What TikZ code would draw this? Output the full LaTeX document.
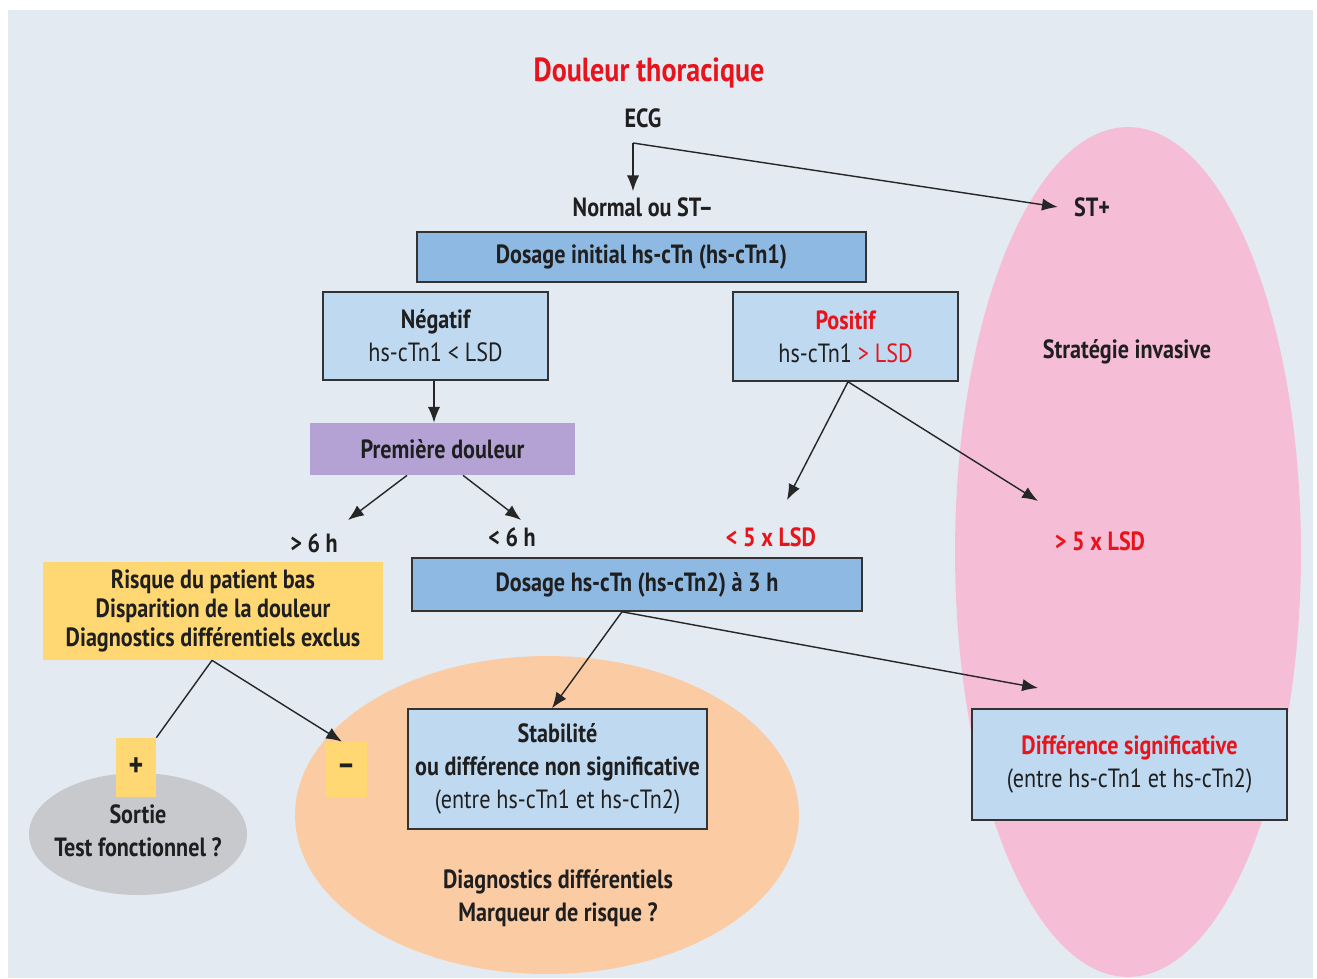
\documentclass[tikz,border=0pt]{standalone}
\usepackage{fontspec}
\setmainfont{PT Sans}[FakeStretch=0.84]
\usetikzlibrary{arrows.meta}
\definecolor{fond}{HTML}{E3EAF1}
\definecolor{rose}{HTML}{F6BDD7}
\definecolor{peche}{HTML}{FBCBA3}
\definecolor{gris}{HTML}{C8C9CD}
\definecolor{bleu}{HTML}{8DB9E2}
\definecolor{bleuclair}{HTML}{BFD9F1}
\definecolor{mauve}{HTML}{B4A2D4}
\definecolor{jaune}{HTML}{FFD874}
\definecolor{rouge}{HTML}{E8141C}
\definecolor{trait}{HTML}{333333}
\begin{document}
\begin{tikzpicture}[x=0.02cm, y=-0.02cm, >={Latex[length=9pt,width=7pt]},
  every node/.style={font=\fontsize{15}{18.7}\selectfont\bfseries, align=center, text=black!88},
  boite/.style={draw=trait, line width=0.9pt, inner sep=0pt},
  fleche/.style={line width=0.8pt, draw=black!85}]
\useasboundingbox (0,0) rectangle (1317,978);
\fill[fond] (8,10) rectangle (1313,978);
\fill[rose] (1128,552) ellipse [x radius=3.46cm, y radius=8.5cm];
\fill[peche] (547,815) ellipse [x radius=5.04cm, y radius=3.18cm];
\fill[gris] (138,834) ellipse [x radius=2.18cm, y radius=1.22cm];

\node[text=rouge, font=\fontsize{19}{22}\selectfont\bfseries] (titre) at (649,73) {Douleur thoracique};
\node (ecg) at (643,118) {ECG};
\coordinate (fourche) at (633,143);
\node (normal) at (643,207) {Normal ou ST--};
\node (stplus) at (1092,207) {ST+};
\node (invasive) at (1127,352) {Stratégie invasive};

\node[boite, fill=bleu, minimum width=8.98cm, minimum height=1.0cm] (dosage1) at (641.5,257) {Dosage initial hs-cTn (hs-cTn1)};
\node[boite, fill=bleuclair, minimum width=4.5cm, minimum height=1.76cm] (negatif) at (435.5,336) {Négatif\\\mdseries hs-cTn1 < LSD};
\node[boite, fill=bleuclair, minimum width=4.5cm, minimum height=1.78cm] (positif) at (845.5,336.5) {\textcolor{rouge}{Positif}\\\mdseries hs-cTn1 \textcolor{rouge}{> LSD}};
\node[fill=mauve, inner sep=0pt, minimum width=5.3cm, minimum height=1.04cm] (premiere) at (442.5,449) {Première douleur};

\node (plus6) at (314,543) {> 6 h};
\node (moins6) at (512,537) {< 6 h};
\node[text=rouge] (moins5) at (771,537) {< 5 x LSD};
\node[text=rouge] (plus5) at (1100,541) {> 5 x LSD};
\coordinate (fin6a) at (348,520);
\coordinate (fin6b) at (521,520);
\coordinate (fin5a) at (787,500);
\coordinate (fin5b) at (1038,501);

\node[fill=jaune, inner sep=0pt, minimum width=6.8cm, minimum height=1.96cm, font=\fontsize{15}{16.4}\selectfont\bfseries] (risque) at (213,611) {Risque du patient bas\\Disparition de la douleur\\Diagnostics différentiels exclus};
\node[boite, fill=bleu, minimum width=9.0cm, minimum height=1.06cm] (dosage2) at (637,584.5) {Dosage hs-cTn (hs-cTn2) à 3 h};
\node[boite, fill=bleuclair, minimum width=5.98cm, minimum height=2.4cm] (stable) at (557.5,769) {Stabilité\\ou différence non significative\\\mdseries (entre hs-cTn1 et hs-cTn2)};
\node[boite, fill=bleuclair, minimum width=6.3cm, minimum height=2.22cm] (diff) at (1129.5,764.5) {\textcolor{rouge}{Différence significative}\\\mdseries (entre hs-cTn1 et hs-cTn2)};
\coordinate (findiff) at (1038,688);

\node[fill=jaune, inner sep=0pt, minimum width=0.8cm, minimum height=1.18cm, font=\fontsize{19}{20}\selectfont\bfseries] (plus) at (136,767.5) {+};
\node[fill=jaune, inner sep=0pt, minimum width=0.84cm, minimum height=1.1cm, font=\fontsize{19}{20}\selectfont\bfseries] (moins) at (346,769.5) {--};
\node (sortie) at (138,831) {Sortie\\Test fonctionnel ?};
\node (diag) at (558,898) {Diagnostics différentiels\\Marqueur de risque ?};

\draw[fleche, ->] (fourche) -- (fourche |- normal.north);
\draw[fleche, ->] (fourche) -- ([xshift=-0.2cm]stplus.west);
\draw[fleche, ->] (negatif.south -| 434,0) -- (premiere.north -| 434,0);
\draw[fleche, ->] ([xshift=-0.71cm]premiere.south) -- (fin6a);
\draw[fleche, ->] ([xshift=0.41cm]premiere.south) -- (fin6b);
\draw[fleche, ->] ([xshift=0.05cm]positif.south) -- (fin5a);
\draw[fleche, ->] ([xshift=0.05cm]positif.south) -- (fin5b);
\draw[fleche, ->] ([xshift=-0.3cm]dosage2.south) -- ([xshift=-0.11cm]stable.north);
\draw[fleche, ->] ([xshift=-0.3cm]dosage2.south) -- (findiff);
\draw[fleche] ([xshift=-0.02cm]risque.south) -- (plus.north east);
\draw[fleche, ->] ([xshift=-0.02cm]risque.south) -- ([xshift=-0.08cm]moins.north);
\end{tikzpicture}
\end{document}
